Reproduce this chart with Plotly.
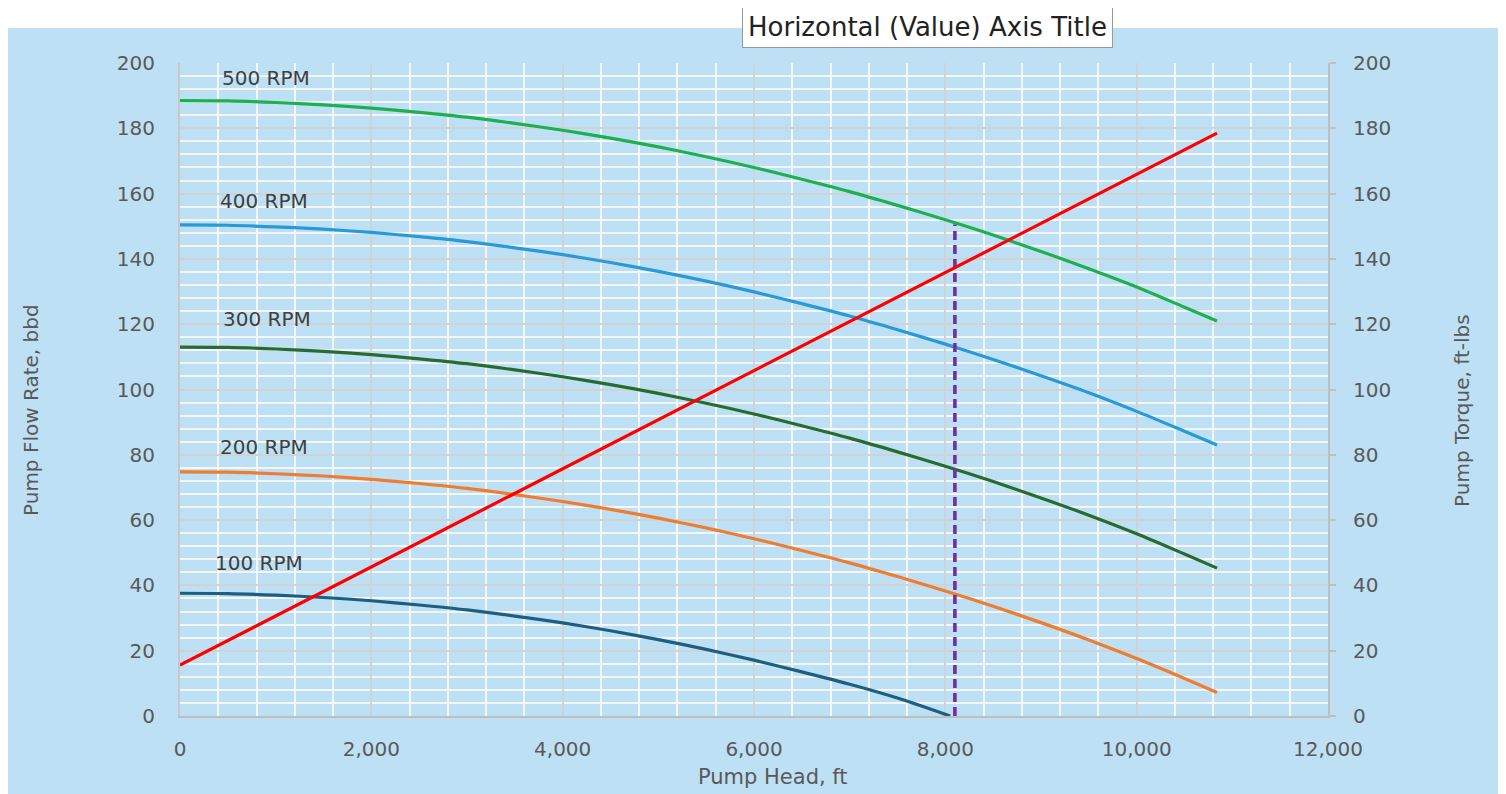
import plotly.graph_objects as go

# ---- data ----
head_ft = [0, 500, 1000, 1500, 2000, 2500, 3000, 3500, 4000, 4500, 5000, 5500,
           6000, 6500, 7000, 7500, 8000, 8500, 9000, 9500, 10000, 10500, 10840]
flow_500 = [188.5, 188.4, 187.9, 187.2, 186.2, 184.9, 183.4, 181.5, 179.4, 177.0, 174.3, 171.3,
            168.0, 164.4, 160.6, 156.4, 152.0, 147.3, 142.3, 137.0, 131.4, 125.2, 121.0]
flow_400 = [150.4, 150.3, 149.8, 149.1, 148.1, 146.8, 145.3, 143.4, 141.3, 138.9, 136.2, 133.2,
            129.9, 126.3, 122.5, 118.3, 113.9, 109.2, 104.2, 99.0, 93.3, 87.2, 83.0]
flow_300 = [113.0, 112.9, 112.4, 111.7, 110.7, 109.4, 107.9, 106.0, 103.9, 101.5, 98.8, 95.8,
            92.5, 88.9, 85.1, 80.9, 76.5, 71.8, 66.8, 61.5, 55.8, 49.6, 45.3]
flow_200 = [74.8, 74.7, 74.2, 73.5, 72.5, 71.2, 69.7, 67.8, 65.7, 63.3, 60.6, 57.6,
            54.3, 50.7, 46.9, 42.7, 38.3, 33.6, 28.6, 23.3, 17.6, 11.5, 7.2]
head_100 = [0, 500, 1000, 1500, 2000, 2500, 3000, 3500, 4000, 4500, 5000, 5500,
            6000, 6500, 7000, 7500, 8050]
flow_100 = [37.6, 37.5, 37.0, 36.3, 35.3, 34.0, 32.5, 30.6, 28.5, 26.1, 23.4, 20.4,
            17.1, 13.5, 9.7, 5.5, 0.0]

torque_head = [0, 2000, 4000, 6000, 8000, 10000, 10840]
torque_ftlb = [15.6, 45.7, 75.7, 105.8, 135.8, 165.9, 178.5]

op_head = [8100, 8100]
op_flow = [0, 150.5]

rpm_labels = ["500 RPM", "400 RPM", "300 RPM", "200 RPM", "100 RPM"]
label_x = [420, 400, 430, 400, 345]
label_y = [195.4, 157.6, 121.5, 82.5, 46.9]

x_ticks = [0, 2000, 4000, 6000, 8000, 10000, 12000]
y_ticks = [0, 20, 40, 60, 80, 100, 120, 140, 160, 180, 200]

# ---- styling ----
BG = "#BEE0F4"
FONT = "DejaVu Sans"
TICK_COLOR = "#595959"
MAJOR = "#D0D3D6"
MINOR = "#F4F6F8"

fig = go.Figure()

series = [
    (head_ft, flow_500, "#1DB050"),
    (head_ft, flow_400, "#2A9AD6"),
    (head_ft, flow_300, "#276B2E"),
    (head_ft, flow_200, "#ED7D31"),
    (head_100, flow_100, "#1E5E80"),
]
for xs, ys, c in series:
    fig.add_trace(go.Scatter(x=xs, y=ys, mode="lines",
                             line=dict(color=c, width=3.2, shape="spline", smoothing=0.8),
                             showlegend=False, hoverinfo="skip"))

fig.add_trace(go.Scatter(x=op_head, y=op_flow, mode="lines",
                         line=dict(color="#7030A0", width=3.6, dash="9px,5px"),
                         showlegend=False, hoverinfo="skip"))

fig.add_trace(go.Scatter(x=torque_head, y=torque_ftlb, mode="lines", yaxis="y2",
                         line=dict(color="#FF0000", width=3.2), showlegend=False, hoverinfo="skip"))

for t, lx, ly in zip(rpm_labels, label_x, label_y):
    fig.add_annotation(x=lx, y=ly, xref="x", yref="y", text=t, showarrow=False,
                       xanchor="left", yanchor="middle",
                       font=dict(family=FONT, size=20, color="#404040"))

# axis titles
fig.add_annotation(x=0.5166, y=-0.094, xref="paper", yref="paper", text="Pump Head, ft",
                   showarrow=False, xanchor="center", yanchor="middle",
                   font=dict(family=FONT, size=21, color=TICK_COLOR))
fig.add_annotation(x=-0.1298, y=0.4686, xref="paper", yref="paper", text="Pump Flow Rate, bbd",
                   showarrow=False, textangle=-90, xanchor="center", yanchor="middle",
                   font=dict(family=FONT, size=20, color=TICK_COLOR))
fig.add_annotation(x=1.1167, y=0.4686, xref="paper", yref="paper", text="Pump Torque, ft-lbs",
                   showarrow=False, textangle=-90, xanchor="center", yanchor="middle",
                   font=dict(family=FONT, size=20, color=TICK_COLOR))

# tooltip-like title box
fig.add_annotation(x=0.6507, y=1.0544, xref="paper", yref="paper", text="Horizontal (Value) Axis Title",
                   showarrow=False, xanchor="center", yanchor="middle",
                   bgcolor="white", bordercolor="#9A9A9A", borderwidth=1, borderpad=5,
                   font=dict(family=FONT, size=26, color="#222222"))

# white strip at top of page
fig.add_shape(type="rect", xref="paper", yref="paper", x0=-0.2, x1=1.2, y0=1.0536, y1=1.2,
              fillcolor="white", line=dict(width=0), layer="below")

axis_font = dict(family=FONT, size=20, color=TICK_COLOR)

fig.update_layout(
    width=1498, height=786,
    margin=dict(l=172, r=178, t=55, b=78),
    paper_bgcolor=BG, plot_bgcolor=BG,
    xaxis=dict(range=[0, 12000], tickvals=x_ticks, tickformat=",", tickfont=axis_font,
               showgrid=True, gridcolor=MAJOR, gridwidth=2,
               minor=dict(dtick=400, showgrid=True, gridcolor=MINOR, gridwidth=2),
               showline=True, linecolor="#BFBFBF", linewidth=2, ticks="",
               ticklabelstandoff=14, zeroline=False, fixedrange=True),
    yaxis=dict(range=[0, 200], tickvals=y_ticks, tickfont=axis_font,
               showgrid=True, gridcolor=MAJOR, gridwidth=2,
               minor=dict(dtick=4, showgrid=True, gridcolor=MINOR, gridwidth=2),
               showline=True, linecolor="#C8C8C8", linewidth=2, ticks="",
               ticklabelstandoff=19, zeroline=False, fixedrange=True),
    yaxis2=dict(range=[0, 200], tickvals=y_ticks, tickfont=axis_font, overlaying="y", side="right",
                showgrid=False, showline=True, linecolor="#BFBFBF", linewidth=2,
                ticks="outside", ticklen=6, tickcolor="#BFBFBF", tickwidth=2,
                ticklabelstandoff=13, zeroline=False, fixedrange=True),
    showlegend=False,
)

fig.write_html("out.html")
